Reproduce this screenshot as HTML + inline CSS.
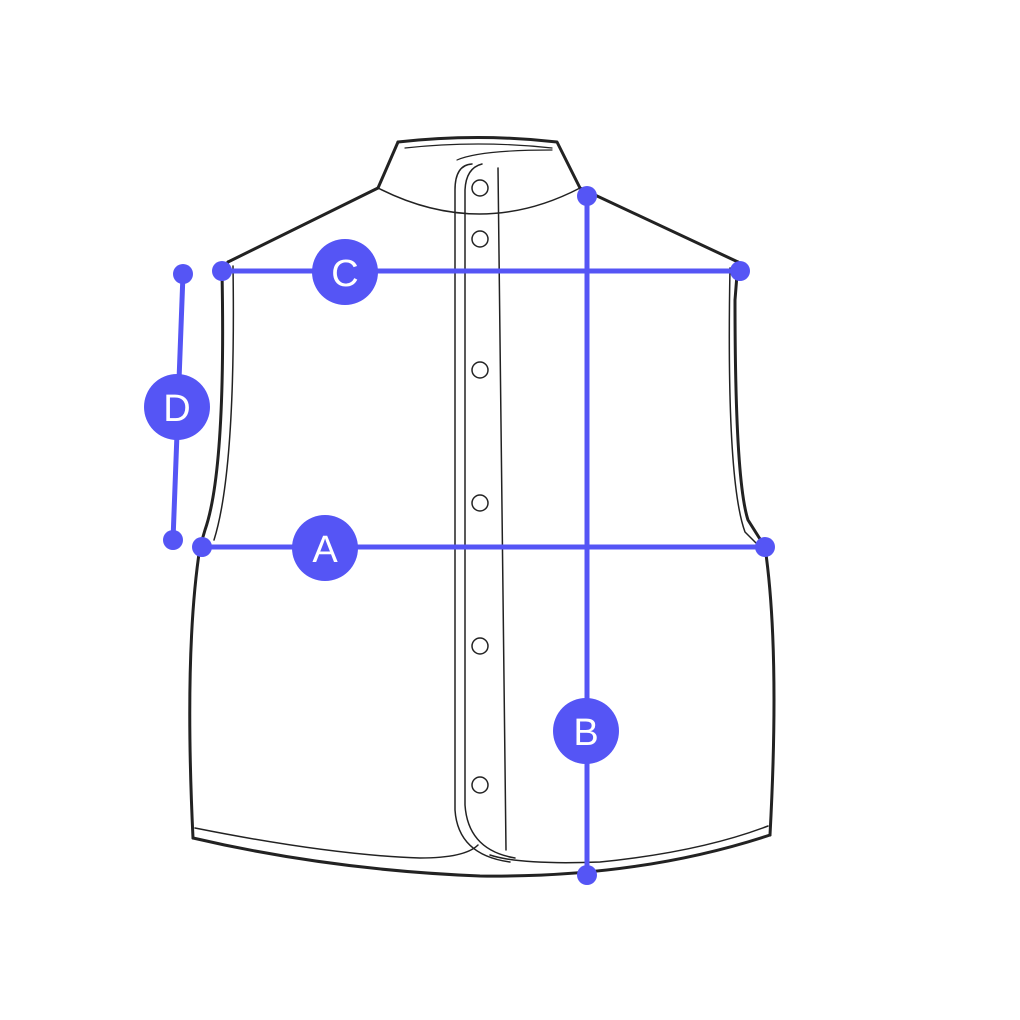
<!DOCTYPE html>
<html><head><style>html,body{margin:0;padding:0;background:#fff}svg{display:block}</style></head>
<body>
<svg width="1020" height="1020" viewBox="0 0 1020 1020" xmlns="http://www.w3.org/2000/svg">
<g fill="none" stroke="#222" stroke-linecap="round" stroke-linejoin="round">
<!-- collar -->
<path d="M398,142 Q478,133 557,142 L580,188" stroke-width="3"/>
<path d="M398,142 L378,188" stroke-width="3"/>
<path d="M378,188 Q480,240 580,188" stroke-width="1.5"/>
<path d="M405,148 Q478,140 552,148" stroke-width="1.2"/>
<!-- shoulders -->
<path d="M378,188 L228,262" stroke-width="3"/>
<path d="M580,188 L738,262" stroke-width="3"/>
<!-- left armhole + side -->
<path d="M228,262 L222,272 Q226,470 205,530 L200,547 Q184,650 193,838" stroke-width="3"/>
<path d="M233,266 Q236,470 214,540" stroke-width="1.5"/>
<!-- right armhole + side -->
<path d="M738,262 L735,300 Q735,480 748,520 L765,547 Q780,650 770,835" stroke-width="3"/>
<path d="M730,268 Q726,480 745,532 L758,545" stroke-width="1.5"/>
<!-- hem -->
<path d="M193,838 Q330,870 480,876 Q640,878 770,835" stroke-width="3"/>
<path d="M195,828 Q330,855 420,858 Q465,858 478,845" stroke-width="1.5"/>
<path d="M490,855 Q520,865 600,862 Q700,852 768,826" stroke-width="1.5"/>
<!-- placket -->
<path d="M472,164 Q455,165 455,190 L455,810 Q458,855 510,862" stroke-width="1.5"/>
<path d="M482,164 Q466,168 465,190 L465,805 Q468,850 515,858" stroke-width="1.5"/>
<path d="M498,168 L506,850" stroke-width="1.5"/>
<path d="M457,160 Q480,150 552,150" stroke-width="1.2"/>
<g stroke-width="1.5">
<circle cx="480" cy="188" r="8"/><circle cx="480" cy="239" r="8"/><circle cx="480" cy="370" r="8"/>
<circle cx="480" cy="503" r="8"/><circle cx="480" cy="646" r="8"/><circle cx="480" cy="785" r="8"/>
</g>
</g>
<g stroke="#5555f5" stroke-width="5" fill="#5555f5" stroke-linecap="round">
<line x1="222" y1="271" x2="740" y2="271"/>
<line x1="202" y1="547" x2="765" y2="547"/>
<line x1="587" y1="196" x2="587" y2="875"/>
<line x1="183" y1="274" x2="173" y2="540"/>
<g stroke="none">
<circle cx="222" cy="271" r="10"/><circle cx="740" cy="271" r="10"/>
<circle cx="202" cy="547" r="10"/><circle cx="765" cy="547" r="10"/>
<circle cx="587" cy="196" r="10"/><circle cx="587" cy="875" r="10"/>
<circle cx="183" cy="274" r="10"/><circle cx="173" cy="540" r="10"/>
<circle cx="345" cy="272" r="33"/><circle cx="325" cy="548" r="33"/>
<circle cx="586" cy="731" r="33"/><circle cx="177" cy="407" r="33"/>
</g>
</g>
<g fill="#fff" font-family="Liberation Sans, sans-serif" font-size="38" text-anchor="middle">
<text x="345" y="286">C</text><text x="325" y="562">A</text>
<text x="586" y="745">B</text><text x="177" y="421">D</text>
</g>
</svg>
</body></html>
